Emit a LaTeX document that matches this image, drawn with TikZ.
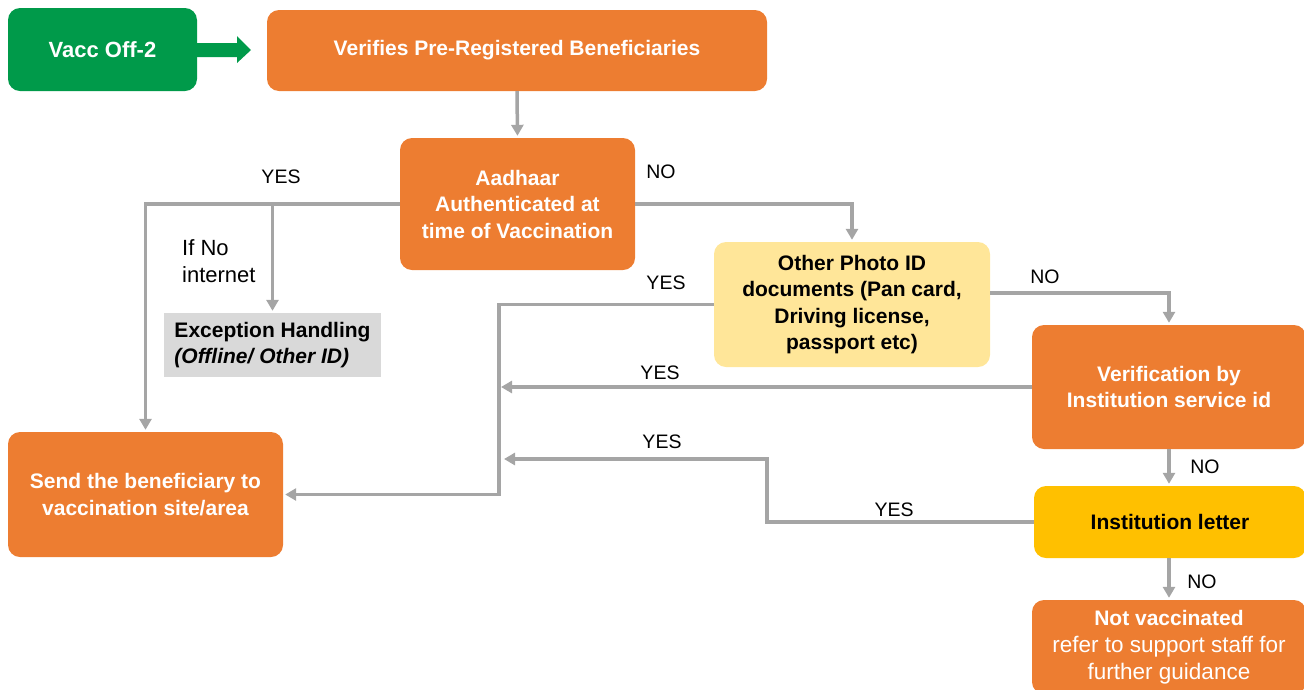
\documentclass[tikz,border=0pt]{standalone}
\usepackage{fontspec}
\setmainfont{Liberation Sans}
\usetikzlibrary{arrows.meta}
\definecolor{grn}{HTML}{009A4A}
\definecolor{org}{HTML}{ED7D31}
\definecolor{lyel}{HTML}{FFE699}
\definecolor{gold}{HTML}{FFC000}
\definecolor{lgray}{HTML}{D9D9D9}
\definecolor{conncol}{HTML}{A5A5A5}
\tikzset{
  box/.style={rounded corners=12pt, inner sep=0pt, align=center, font=\fontsize{21}{26.5}\selectfont\bfseries},
  obox/.style={box, fill=org, text=white},
  conn/.style={draw=conncol, line width=3.5pt},
  arr/.style={conn, -{Triangle[length=11pt,width=12pt]}, shorten >=2pt},
  lab/.style={font=\fontsize{19.5}{24}\selectfont, inner sep=0pt}
}
\begin{document}
\begin{tikzpicture}[x=1pt,y=-1pt]
\useasboundingbox (0,0) rectangle (1304,689);
\clip (0,0) rectangle (1304,689);
% nodes
\node[box, fill=grn, text=white, minimum width=189pt, minimum height=83pt, font=\fontsize{22}{26}\selectfont\bfseries] (vacc) at (102.5,49.5) {Vacc Off-2};
\node[obox, minimum width=500pt, minimum height=81pt] (ver) at (517,50.5) {Verifies Pre-Registered Beneficiaries};
\node[obox, minimum width=235pt, minimum height=132pt] (aad) at (517.5,204) {Aadhaar\\Authenticated at\\time of Vaccination};
\node[box, fill=lgray, text=black, rounded corners=0pt, minimum width=217pt, minimum height=64pt, align=left] (exc) at (272.5,345) {Exception Handling\\\textit{(Offline/ Other ID)}};
\node[box, fill=lyel, text=black, minimum width=276pt, minimum height=125pt] (photo) at (852,304.5) {Other Photo ID\\documents (Pan card,\\Driving license,\\passport etc)};
\node[obox, minimum width=274pt, minimum height=124pt] (verif) at (1169,387) {Verification by\\Institution service id};
\node[box, fill=gold, text=black, minimum width=272pt, minimum height=72pt] (inst) at (1170,522) {Institution letter};
\node[obox, minimum width=274pt, minimum height=94pt, font=\fontsize{22.5}{27}\selectfont] (nv) at (1169,647) {\textbf{\fontsize{21}{27}\selectfont Not vaccinated}\\refer to support staff for\\further guidance};
\node[obox, minimum width=275pt, minimum height=125pt] (send) at (145.5,494.5) {Send the beneficiary to\\vaccination site/area};
% green arrow
\fill[grn] (197,43) -- (237,43) -- (237,36) -- (251,50) -- (237,63) -- (237,57) -- (197,57) -- cycle;
% connectors
\coordinate (j) at (499,0);
\draw[arr] (ver.south) -- (aad.north);
\draw[arr] (aad.west) -| (send.north);
\draw[arr] (exc.north |- aad.west) -- (exc.north);
\draw[arr] (aad.east) -| (photo.north);
\draw[arr] (photo.west) -- (photo.west -| j) |- (send.east);
\coordinate (pe) at (990,293);
\draw[arr] (pe) -| (verif.north);
\draw[arr] (verif.west) -- (verif.west -| j);
\draw[arr] (verif.south) -- (verif.south |- inst.north);
\coordinate (k1) at (767,522);
\coordinate (k2) at (767,459);
\coordinate (k3) at (502,459);
\draw[arr] (inst.west) -- (k1) -- (k2) -- (k3);
\draw[arr] (nv.north |- inst.south) -- (nv.north);
% labels
\node[lab] (l1) at (281,177) {YES};
\node[lab, align=left, anchor=west, font=\fontsize{22}{27}\selectfont] (l2) at (182,261.5) {If No\\internet};
\node[lab] (l3) at (661,172) {NO};
\node[lab] (l4) at (666,283) {YES};
\node[lab] (l5) at (1045,277) {NO};
\node[lab] (l6) at (660,373) {YES};
\node[lab] (l7) at (662,442) {YES};
\node[lab] (l8) at (894,510) {YES};
\node[lab] (l9) at (1205,467) {NO};
\node[lab] (l10) at (1202,582) {NO};
\end{tikzpicture}
\end{document}
